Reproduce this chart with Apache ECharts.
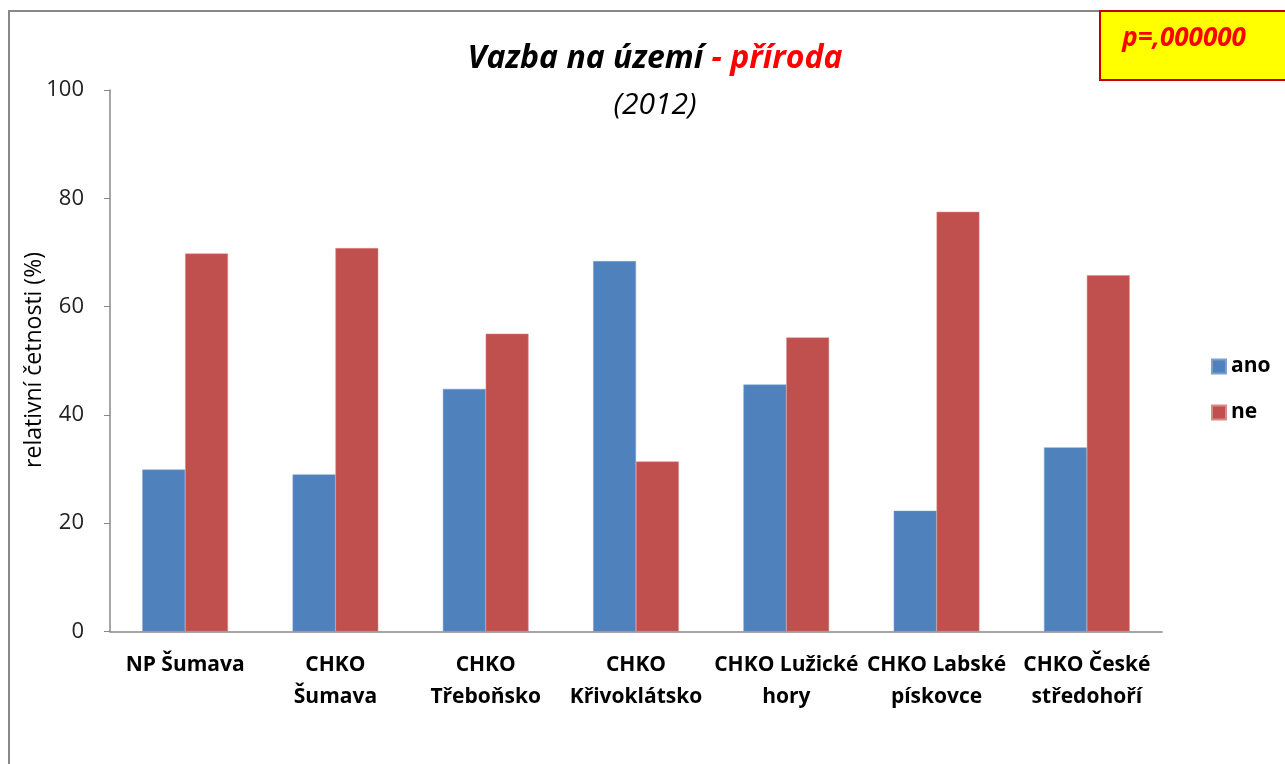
<!DOCTYPE html>
<html>
<head>
<meta charset="utf-8">
<script src="https://cdn.jsdelivr.net/npm/echarts@6/dist/echarts.min.js"></script>
<style>
  html, body { margin: 0; padding: 0; background: #fff; }
  #chart { width: 1285px; height: 764px; }
</style>
</head>
<body>
<div id="chart"></div>
<script>
// data
var categories = ['NP Šumava', 'CHKO\nŠumava', 'CHKO\nTřeboňsko', 'CHKO\nKřivoklátsko', 'CHKO Lužické\nhory', 'CHKO Labské\npískovce', 'CHKO České\nstředohoří'];
var ano = [29.9, 29.0, 44.8, 68.4, 45.6, 22.3, 34.0];
var ne = [69.8, 70.8, 55.0, 31.4, 54.3, 77.5, 65.8];
var yTicks = { min: 0, max: 100, interval: 20 };

var font = '"Open Sans", "Noto Sans", sans-serif';
var myChart = echarts.init(document.getElementById('chart'));

myChart.setOption({
  animation: false,
  textStyle: { fontFamily: font },
  title: {
    left: 650,
    top: 30,
    textAlign: 'center',
    text: '{a|Vazba na území }{b|- příroda}\n{c|(2012)}',
    textStyle: {
      rich: {
        a: { fontFamily: font, fontSize: 32, fontWeight: 'bold', fontStyle: 'italic', color: '#000', lineHeight: 47 },
        b: { fontFamily: font, fontSize: 32, fontWeight: 'bold', fontStyle: 'italic', color: '#ff0000', lineHeight: 47 },
        c: { fontFamily: font, fontSize: 30, fontWeight: 'normal', fontStyle: 'italic', color: '#000', lineHeight: 47 }
      }
    }
  },
  legend: {
    orient: 'vertical',
    left: 1206,
    top: 351,
    itemWidth: 14,
    itemHeight: 14,
    itemGap: 25,
    icon: 'rect',
    textStyle: { fontFamily: font, fontSize: 21, fontWeight: 'bold', color: '#000' },
    data: ['ano', 'ne']
  },
  grid: { left: 110, right: 123, top: 90, bottom: 132.5 },
  xAxis: {
    type: 'category',
    data: categories,
    axisLine: { lineStyle: { color: '#888', width: 1.5 } },
    axisTick: { length: 6, lineStyle: { color: '#888' } },
    axisLabel: {
      fontFamily: font, fontSize: 21, fontWeight: 'bold', color: '#000',
      lineHeight: 32, margin: 18, interval: 0
    }
  },
  yAxis: {
    type: 'value',
    min: yTicks.min,
    max: yTicks.max,
    interval: yTicks.interval,
    splitLine: { show: false },
    axisLine: { show: true, lineStyle: { color: '#888', width: 1.5 } },
    axisTick: { show: true, length: 6, lineStyle: { color: '#888' } },
    axisLabel: { fontFamily: font, fontSize: 22, color: '#222', margin: 26 }
  },
  series: [
    {
      name: 'ano', type: 'bar', data: ano,
      barGap: '0%', barCategoryGap: '43%',
      itemStyle: { color: '#4F81BD', borderColor: '#7a9fd0', borderWidth: 0.5 }
    },
    {
      name: 'ne', type: 'bar', data: ne,
      itemStyle: { color: '#C0504D', borderColor: '#d88a88', borderWidth: 0.5 }
    }
  ],
  graphic: [
    {
      type: 'rect', z: -1,
      shape: { x: 9, y: 11, width: 1300, height: 800 },
      style: { fill: 'none', stroke: '#888', lineWidth: 2 }
    },
    {
      type: 'rect',
      shape: { x: 1100, y: 11, width: 200, height: 69 },
      style: { fill: '#ffff00', stroke: '#c00000', lineWidth: 2 }
    },
    {
      type: 'text',
      x: 1184, y: 39,
      style: {
        text: 'p=,000000', fill: '#ff0000',
        font: 'italic bold 26px ' + font,
        textAlign: 'center', textVerticalAlign: 'middle'
      }
    },
    {
      type: 'text',
      x: 34, y: 360,
      rotation: Math.PI / 2,
      style: {
        text: 'relativní četnosti (%)', fill: '#000',
        font: '23px ' + font,
        textAlign: 'center', textVerticalAlign: 'middle'
      }
    }
  ]
});
</script>
</body>
</html>
